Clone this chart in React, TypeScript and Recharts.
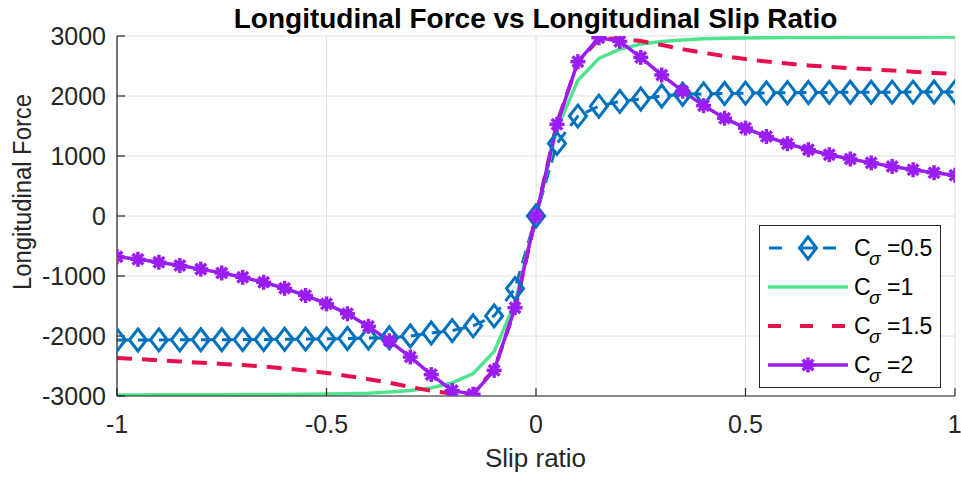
import React from 'react';
import { LineChart, Line, XAxis, YAxis, CartesianGrid } from 'recharts';

const SLIP = [
  -1, -0.95, -0.9, -0.85, -0.8, -0.75, -0.7, -0.65, -0.6, -0.55, -0.5,
  -0.45, -0.4, -0.35, -0.3, -0.25, -0.2, -0.15, -0.1, -0.05, 0,
  0.05, 0.1, 0.15, 0.2, 0.25, 0.3, 0.35, 0.4, 0.45, 0.5,
  0.55, 0.6, 0.65, 0.7, 0.75, 0.8, 0.85, 0.9, 0.95, 1,
];

// C_sigma = 0.5
const FORCE_05 = [
  -2067, -2066, -2065, -2064, -2063, -2062, -2060, -2058, -2055, -2052, -2048,
  -2042, -2035, -2030, -2000, -1950, -1910, -1830, -1665, -1210, 0,
  1210, 1665, 1830, 1910, 1950, 2000, 2030, 2035, 2042, 2048,
  2052, 2055, 2058, 2060, 2062, 2063, 2064, 2065, 2066, 2067,
];
// C_sigma = 1
const FORCE_1 = [
  -2983, -2982, -2981, -2980, -2979, -2978, -2977, -2975, -2973, -2970, -2967,
  -2962, -2955, -2935, -2910, -2865, -2780, -2625, -2260, -1450, 0,
  1450, 2260, 2625, 2780, 2865, 2910, 2935, 2955, 2962, 2967,
  2970, 2973, 2975, 2977, 2978, 2979, 2980, 2981, 2982, 2983,
];
// C_sigma = 1.5
const FORCE_15 = [
  -2365, -2385, -2405, -2425, -2445, -2465, -2485, -2510, -2540, -2575, -2615,
  -2665, -2720, -2780, -2850, -2915, -2960, -2950, -2560, -1550, 0,
  1550, 2560, 2950, 2960, 2915, 2850, 2780, 2720, 2665, 2615,
  2575, 2540, 2510, 2485, 2465, 2445, 2425, 2405, 2385, 2365,
];
// C_sigma = 2
const FORCE_2 = [
  -680, -722, -770, -825, -885, -950, -1022, -1105, -1205, -1325, -1465,
  -1630, -1840, -2080, -2350, -2644, -2910, -2970, -2572, -1528, 0,
  1528, 2572, 2970, 2910, 2644, 2350, 2080, 1840, 1630, 1465,
  1325, 1205, 1105, 1022, 950, 885, 825, 770, 722, 680,
];

const X_TICKS = [-1, -0.5, 0, 0.5, 1];
const Y_TICKS = [-3000, -2000, -1000, 0, 1000, 2000, 3000];
const LEGEND_LABELS = ['=0.5', '=1', '=1.5', '=2'];

const BLUE = '#0072bd';
const GREEN = '#4fe38e';
const RED = '#e8104c';
const PURPLE = '#9a1ef2';
const AXIS = '#262626';
const FONT = "'Liberation Sans', Arial, Helvetica, sans-serif";

const data = SLIP.map((s, i) => ({
  s,
  c05: FORCE_05[i],
  c1: FORCE_1[i],
  c15: FORCE_15[i],
  c2: FORCE_2[i],
}));

const DiamondDot = (props: any) => {
  const { cx, cy, index } = props;
  if (cx == null || cy == null) return <g key={index} />;
  return (
    <path
      key={index}
      d={`M${cx},${cy - 11} L${cx + 8.5},${cy} L${cx},${cy + 11} L${cx - 8.5},${cy} Z`}
      fill="none"
      stroke={BLUE}
      strokeWidth={3}
    />
  );
};

const StarDot = (props: any) => {
  const { cx, cy, index } = props;
  if (cx == null || cy == null) return <g key={index} />;
  const r = 7.5;
  const d = r * 0.707;
  return (
    <g key={index} stroke={PURPLE} strokeWidth={3.5}>
      <line x1={cx} y1={cy - r} x2={cx} y2={cy + r} />
      <line x1={cx - r} y1={cy} x2={cx + r} y2={cy} />
      <line x1={cx - d} y1={cy - d} x2={cx + d} y2={cy + d} />
      <line x1={cx - d} y1={cy + d} x2={cx + d} y2={cy - d} />
      <circle cx={cx} cy={cy} r={4.5} fill={PURPLE} stroke="none" />
    </g>
  );
};

const NoTick = () => <g />;

function LegendBox() {
  const left = 759;
  const top = 225;
  const rows = [248, 287, 326, 365];
  return (
    <g>
      <rect x={left + 0.5} y={top + 0.5} width={181} height={162} fill="#fff" stroke={AXIS} strokeWidth={1} />
      {/* sample 1: dashed blue with diamond */}
      <line x1={768} y1={rows[0]} x2={848} y2={rows[0]} stroke={BLUE} strokeWidth={3} strokeDasharray="13 14" strokeDashoffset={-1} />
      <rect x={795} y={rows[0] - 13} width={26} height={26} fill="#fff" />
      <line x1={802} y1={rows[0]} x2={814} y2={rows[0]} stroke={BLUE} strokeWidth={3} />
      <DiamondDot cx={808} cy={rows[0]} index="ld" />
      <line x1={768} y1={rows[1]} x2={848} y2={rows[1]} stroke={GREEN} strokeWidth={3.5} />
      <line x1={768} y1={rows[2]} x2={848} y2={rows[2]} stroke={RED} strokeWidth={4} strokeDasharray="13 19" />
      <line x1={768} y1={rows[3]} x2={848} y2={rows[3]} stroke={PURPLE} strokeWidth={3.5} />
      <StarDot cx={808} cy={rows[3]} index="ls" />
      {rows.map((y, i) => (
        <g key={i} fontFamily={FONT} fill="#000">
          <text x={854} y={y + 8} fontSize={23}>C</text>
          <text x={869} y={y + 17} fontSize={19} fontStyle="italic">σ</text>
          <text x={887} y={y + 8} fontSize={23}>{LEGEND_LABELS[i]}</text>
        </g>
      ))}
    </g>
  );
}

export default function App() {
  return (
    <div style={{ position: 'absolute', left: 0, top: 0, width: 961, height: 477, background: '#fff' }}>
      <LineChart width={961} height={477} data={data} margin={{ top: 36, right: 6, bottom: 0, left: 0 }}>
        <CartesianGrid xAxisId="b" yAxisId="l" stroke="#dedede" strokeWidth={1} />
        <XAxis
          xAxisId="b"
          dataKey="s"
          type="number"
          domain={[-1, 1]}
          ticks={X_TICKS}
          allowDataOverflow
          orientation="bottom"
          height={81}
          tickSize={-8}
          tickMargin={27}
          axisLine={{ stroke: AXIS, strokeWidth: 1.2 }}
          tickLine={{ stroke: AXIS, strokeWidth: 1.2 }}
          tick={{ fill: AXIS, fontSize: 25, fontFamily: FONT }}
        />
        <XAxis
          xAxisId="t"
          dataKey="s"
          type="number"
          domain={[-1, 1]}
          ticks={X_TICKS}
          allowDataOverflow
          orientation="top"
          height={0}
          tickSize={-8}
          axisLine={{ stroke: AXIS, strokeWidth: 1.2 }}
          tickLine={{ stroke: AXIS, strokeWidth: 1.2 }}
          tick={NoTick}
        />
        <YAxis
          yAxisId="l"
          type="number"
          domain={[-3000, 3000]}
          ticks={Y_TICKS}
          allowDataOverflow
          orientation="left"
          width={117}
          tickSize={-8}
          tickMargin={19}
          axisLine={{ stroke: AXIS, strokeWidth: 1.2 }}
          tickLine={{ stroke: AXIS, strokeWidth: 1.2 }}
          tick={{ fill: AXIS, fontSize: 25, fontFamily: FONT }}
        />
        <YAxis
          yAxisId="r"
          type="number"
          domain={[-3000, 3000]}
          ticks={Y_TICKS}
          allowDataOverflow
          orientation="right"
          width={0}
          tickSize={-8}
          axisLine={{ stroke: AXIS, strokeWidth: 1.2 }}
          tickLine={{ stroke: AXIS, strokeWidth: 1.2 }}
          tick={NoTick}
        />
        <Line
          xAxisId="b"
          yAxisId="l"
          type="linear"
          dataKey="c05"
          stroke={BLUE}
          strokeWidth={3}
          strokeDasharray="13 8"
          dot={DiamondDot}
          activeDot={false}
          isAnimationActive={false}
        />
        <Line
          xAxisId="b"
          yAxisId="l"
          type="linear"
          dataKey="c1"
          stroke={GREEN}
          strokeWidth={3.5}
          dot={false}
          activeDot={false}
          isAnimationActive={false}
        />
        <Line
          xAxisId="b"
          yAxisId="l"
          type="linear"
          dataKey="c15"
          stroke={RED}
          strokeWidth={4}
          strokeDasharray="15 10"
          dot={false}
          activeDot={false}
          isAnimationActive={false}
        />
        <Line
          xAxisId="b"
          yAxisId="l"
          type="linear"
          dataKey="c2"
          stroke={PURPLE}
          strokeWidth={3.5}
          dot={StarDot}
          activeDot={false}
          isAnimationActive={false}
        />
      </LineChart>
      <svg
        width={961}
        height={477}
        style={{ position: 'absolute', left: 0, top: 0, pointerEvents: 'none' }}
      >
        <text x={535.5} y={28} textAnchor="middle" fontFamily={FONT} fontSize={28} fontWeight="bold" fill="#000">
          Longitudinal Force vs Longitudinal Slip Ratio
        </text>
        <text x={535.5} y={467} textAnchor="middle" fontFamily={FONT} fontSize={26} fill={AXIS}>
          Slip ratio
        </text>
        <text
          transform="translate(31,192) rotate(-90)"
          textAnchor="middle"
          fontFamily={FONT}
          fontSize={25}
          fill={AXIS}
          textLength={196}
          lengthAdjust="spacingAndGlyphs"
        >
          Longitudinal Force
        </text>
        <LegendBox />
      </svg>
    </div>
  );
}
